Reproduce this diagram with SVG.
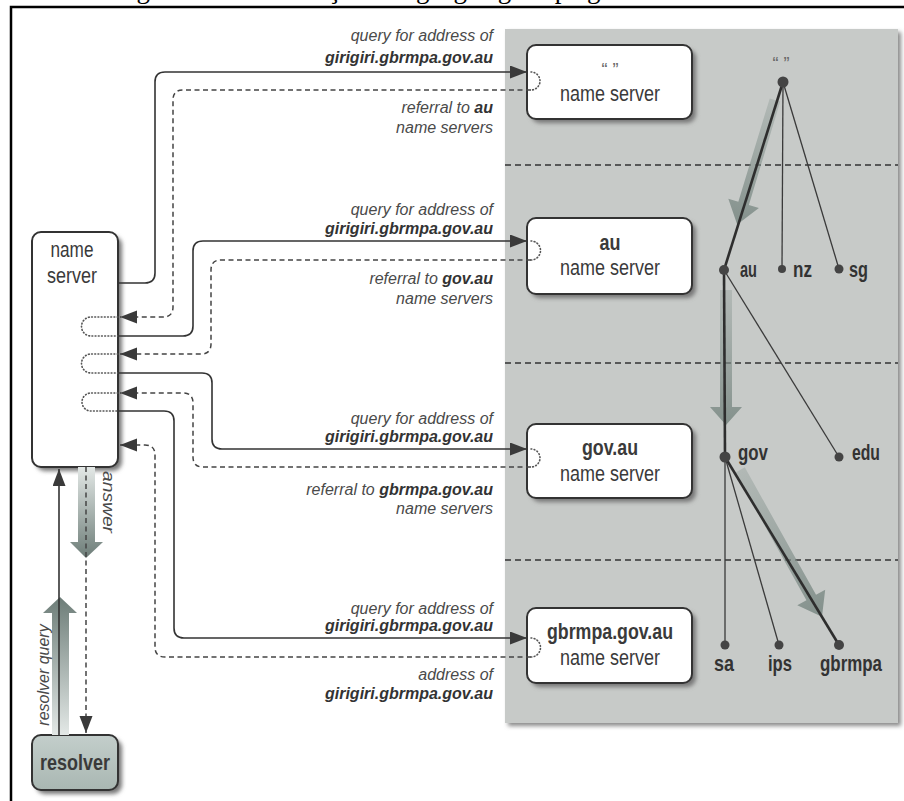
<svg xmlns="http://www.w3.org/2000/svg" width="904" height="801" viewBox="0 0 904 801">
<defs>
<style>
.ln{fill:none;stroke:#333;stroke-width:1.6}
.dash{fill:none;stroke:#444;stroke-width:1.5;stroke-dasharray:5,3.5}
.dot{fill:none;stroke:#555;stroke-width:1.6;stroke-dasharray:0.8,2.4;stroke-linecap:round}
.lbl{font-family:"Liberation Sans",Arial,sans-serif;font-style:italic;font-size:16px;fill:#4a4a4a;text-anchor:end}
.b{font-weight:bold;fill:#333}
.bx{fill:#fff;stroke:#333;stroke-width:2}
.shd{fill:#777;filter:url(#blur)}
.bt{font-family:"Liberation Sans",Arial,sans-serif;font-size:22px;fill:#3a3a3a;text-anchor:middle}
.q{font-family:"Liberation Sans",Arial,sans-serif;font-size:18px;fill:#666;text-anchor:middle}
.tl{font-family:"Liberation Sans",Arial,sans-serif;font-size:22px;font-weight:bold;fill:#333}
.mid{text-anchor:middle}
.thick{stroke:#2e2e2e;stroke-width:2.6;fill:none}
.thin{stroke:#3a3a3a;stroke-width:1.3;fill:none}
.nd{fill:#444}
.pd{stroke:#333;stroke-width:1.5;stroke-dasharray:6,4}
.ga{fill:url(#gArrow)}
</style>
<marker id="ah" markerUnits="userSpaceOnUse" markerWidth="18" markerHeight="14" refX="17" refY="6.5" orient="auto"><path d="M0,0 L17,6.5 L0,13 z" fill="#3a3a3a"/></marker>
<filter id="blur" x="-20%" y="-20%" width="140%" height="140%"><feGaussianBlur stdDeviation="2"/></filter>
<linearGradient id="gArrow" x1="0" y1="0" x2="0" y2="1"><stop offset="0" stop-color="#8a9893" stop-opacity="0.35"/><stop offset="1" stop-color="#7c8a85" stop-opacity="0.9"/></linearGradient>
<linearGradient id="gUp" x1="0" y1="0" x2="0" y2="1"><stop offset="0" stop-color="#6d7d78"/><stop offset="1" stop-color="#e3e8e6"/></linearGradient>
<linearGradient id="gDown" x1="0" y1="0" x2="0" y2="1"><stop offset="0" stop-color="#e3e8e6"/><stop offset="1" stop-color="#6d7d78"/></linearGradient>
<linearGradient id="gRes" x1="0" y1="0" x2="0" y2="1"><stop offset="0" stop-color="#c3cecb"/><stop offset="1" stop-color="#a9b7b2"/></linearGradient>
</defs>

<text x="114" y="-2" font-family="Liberation Serif,serif" font-size="27" fill="#000">Figura 2.12: Resolução de <tspan x="416">girigiri.gbrmpa.gov.au</tspan> na Internet</text>
<path d="M11,801 V7 H904" stroke="#000" stroke-width="2.5" fill="none"/>

<g id="panel">
<rect x="508" y="32" width="393" height="694" fill="#8a8a8a" filter="url(#blur)"/>
<rect x="505" y="29" width="393" height="694" fill="#c7cac8"/>
<line class="pd" x1="505" y1="165" x2="898" y2="165"/>
<line class="pd" x1="505" y1="363" x2="898" y2="363"/>
<line class="pd" x1="505" y1="560" x2="898" y2="560"/>
</g>

<g id="ns-root">
<rect class="shd" x="531" y="49" width="165" height="74" rx="9"/>
<rect class="bx" x="527" y="45" width="165" height="74" rx="9"/>
<text class="q" x="610" y="76">“ ”</text>
<text class="bt" x="610" y="101" textLength="100" lengthAdjust="spacingAndGlyphs">name server</text>
</g>
<g id="ns-au">
<rect class="shd" x="531" y="222" width="165" height="76" rx="9"/>
<rect class="bx" x="527" y="218" width="165" height="76" rx="9"/>
<text class="bt" x="610" y="250" font-weight="bold" textLength="21" lengthAdjust="spacingAndGlyphs">au</text>
<text class="bt" x="610" y="275" textLength="100" lengthAdjust="spacingAndGlyphs">name server</text>
</g>
<g id="ns-gov-au">
<rect class="shd" x="531" y="428" width="165" height="74" rx="9"/>
<rect class="bx" x="527" y="424" width="165" height="74" rx="9"/>
<text class="bt" x="610" y="455" font-weight="bold" textLength="56" lengthAdjust="spacingAndGlyphs">gov.au</text>
<text class="bt" x="610" y="481" textLength="100" lengthAdjust="spacingAndGlyphs">name server</text>
</g>
<g id="ns-gbrmpa">
<rect class="shd" x="531" y="612" width="165" height="75" rx="9"/>
<rect class="bx" x="527" y="608" width="165" height="75" rx="9"/>
<text class="bt" x="610" y="639" font-weight="bold" textLength="126" lengthAdjust="spacingAndGlyphs">gbrmpa.gov.au</text>
<text class="bt" x="610" y="665" textLength="100" lengthAdjust="spacingAndGlyphs">name server</text>
</g>

<g id="local-ns">
<rect class="shd" x="36" y="236" width="86" height="235" rx="9"/>
<rect class="bx" x="32" y="232" width="86" height="235" rx="9"/>
<text class="bt" x="72" y="257" textLength="43" lengthAdjust="spacingAndGlyphs">name</text>
<text class="bt" x="72" y="283" textLength="50" lengthAdjust="spacingAndGlyphs">server</text>
</g>

<g id="resolver">
<rect class="shd" x="36" y="739" width="86" height="55" rx="9"/>
<rect x="32" y="735" width="86" height="55" rx="9" fill="url(#gRes)" stroke="#333" stroke-width="2"/>
<text class="bt" x="75" y="770" font-weight="bold" textLength="70" lengthAdjust="spacingAndGlyphs">resolver</text>
</g>

<g id="tree">
<path class="ga" d="M-5.5,0 H5.5 V108 H16 L0,130 L-16,108 H-5.5 Z" transform="translate(775,100) rotate(16.9)"/>
<path class="ga" d="M-6,0 H6 V117 H16 L0,135 L-16,117 H-6 Z" transform="translate(726,290)"/>
<path class="ga" d="M-5.5,0 H5.5 V146 H16 L0,168 L-16,146 H-5.5 Z" transform="translate(740,470) rotate(-29.2)"/>
<line class="thick" x1="783" y1="82" x2="724" y2="270"/>
<line class="thin" x1="783" y1="82" x2="782" y2="269"/>
<line class="thin" x1="783" y1="82" x2="839" y2="269"/>
<line class="thick" x1="724" y1="270" x2="725" y2="457"/>
<line class="thin" x1="724" y1="270" x2="839" y2="457"/>
<line class="thin" x1="725" y1="457" x2="725" y2="645"/>
<line class="thin" x1="725" y1="457" x2="779" y2="645"/>
<line class="thick" x1="725" y1="457" x2="839" y2="645"/>
<circle class="nd" cx="783" cy="82" r="5.5"/>
<circle class="nd" cx="724" cy="270" r="5"/>
<circle class="nd" cx="782" cy="269" r="4"/>
<circle class="nd" cx="839" cy="269" r="4.5"/>
<circle class="nd" cx="725" cy="457" r="5.5"/>
<circle class="nd" cx="839" cy="457" r="4.5"/>
<circle class="nd" cx="725" cy="645" r="4.5"/>
<circle class="nd" cx="779" cy="645" r="4.5"/>
<circle class="nd" cx="839" cy="645" r="5"/>
<text class="q" x="781" y="70">“ ”</text>
<text class="tl" x="740" y="277" textLength="17" lengthAdjust="spacingAndGlyphs">au</text>
<text class="tl" x="793" y="277" textLength="19" lengthAdjust="spacingAndGlyphs">nz</text>
<text class="tl" x="849" y="277" textLength="19" lengthAdjust="spacingAndGlyphs">sg</text>
<text class="tl" x="738" y="460" textLength="30" lengthAdjust="spacingAndGlyphs">gov</text>
<text class="tl" x="852" y="460" textLength="28" lengthAdjust="spacingAndGlyphs">edu</text>
<text class="tl mid" x="724" y="671" textLength="20" lengthAdjust="spacingAndGlyphs">sa</text>
<text class="tl mid" x="780" y="671" textLength="24" lengthAdjust="spacingAndGlyphs">ips</text>
<text class="tl mid" x="851" y="671" textLength="62" lengthAdjust="spacingAndGlyphs">gbrmpa</text>
</g>

<g id="connectors">
<path class="ln" marker-end="url(#ah)" d="M118,283 H145 Q155,283 155,273 V82 Q155,72 165,72 H527"/>
<path class="dot" d="M531,72 A9,9 0 0 1 531,90"/>
<path class="dash" marker-end="url(#ah)" d="M531,90 H183 Q173,90 173,100 V307 Q173,317 163,317 H120"/>
<path class="dot" d="M118,317 H91 A9.5,9.5 0 0 0 91,336 H118"/>

<path class="ln" marker-end="url(#ah)" d="M118,336 H183 Q193,336 193,326 V251 Q193,241 203,241 H527"/>
<path class="dot" d="M531,241 A9.5,9.5 0 0 1 531,260"/>
<path class="dash" marker-end="url(#ah)" d="M531,260 H221 Q211,260 211,270 V344 Q211,354 201,354 H120"/>
<path class="dot" d="M118,354 H91 A9.5,9.5 0 0 0 91,373 H118"/>

<path class="ln" marker-end="url(#ah)" d="M118,373 H202 Q212,373 212,383 V439 Q212,449 222,449 H527"/>
<path class="dot" d="M531,449 A9,9 0 0 1 531,467"/>
<path class="dash" marker-end="url(#ah)" d="M531,467 H203 Q193,467 193,457 V403 Q193,393 183,393 H120"/>
<path class="dot" d="M118,393 H91 A9,9 0 0 0 91,411 H118"/>

<path class="ln" marker-end="url(#ah)" d="M118,411 H164 Q174,411 174,421 V628 Q174,638 184,638 H527"/>
<path class="dot" d="M531,638 A9.5,9.5 0 0 1 531,657"/>
<path class="dash" marker-end="url(#ah)" d="M531,657 H165 Q155,657 155,647 V455 Q155,445 145,445 H120"/>

<path d="M52,613 H43 L60,597 L77,613 H69 V735 H52 Z" fill="url(#gUp)"/>
<path d="M78,467 H95 V542 H103 L86,558 L70,542 H78 Z" fill="url(#gDown)"/>
<path class="ln" stroke-width="1.3" marker-end="url(#ah)" d="M59,735 V469"/>
<path class="dash" marker-end="url(#ah)" d="M86,467 V733"/>
</g>

<g id="labels">
<text class="lbl" x="493" y="41">query for address of</text>
<text class="lbl b" x="493" y="63">girigiri.gbrmpa.gov.au</text>
<text class="lbl" x="493" y="113">referral to <tspan class="b">au</tspan></text>
<text class="lbl" x="493" y="133">name servers</text>

<text class="lbl" x="493" y="215">query for address of</text>
<text class="lbl b" x="493" y="234">girigiri.gbrmpa.gov.au</text>
<text class="lbl" x="493" y="284">referral to <tspan class="b">gov.au</tspan></text>
<text class="lbl" x="493" y="304">name servers</text>

<text class="lbl" x="493" y="424">query for address of</text>
<text class="lbl b" x="493" y="442">girigiri.gbrmpa.gov.au</text>
<text class="lbl" x="493" y="495">referral to <tspan class="b">gbrmpa.gov.au</tspan></text>
<text class="lbl" x="493" y="514">name servers</text>

<text class="lbl" x="493" y="614">query for address of</text>
<text class="lbl b" x="493" y="631">girigiri.gbrmpa.gov.au</text>
<text class="lbl" x="493" y="680">address of</text>
<text class="lbl b" x="493" y="699">girigiri.gbrmpa.gov.au</text>

<text class="lbl mid" x="0" y="0" transform="translate(49,675) rotate(-90)">resolver query</text>
<text class="lbl mid" x="0" y="0" textLength="62" lengthAdjust="spacingAndGlyphs" transform="translate(103,502) rotate(90)">answer</text>
</g>
</svg>
